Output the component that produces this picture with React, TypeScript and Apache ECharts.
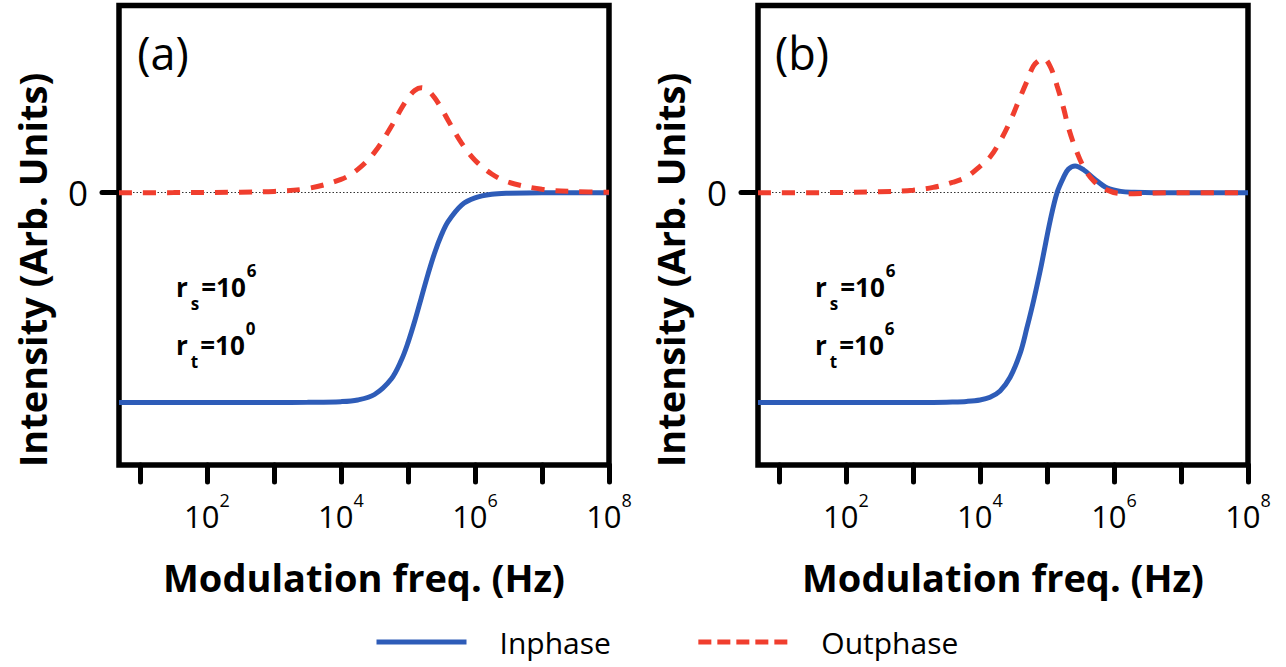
import React, { useEffect, useRef } from "react";
import * as echarts from "echarts";

// ---- data (log10 of modulation frequency in Hz, and intensity in arb. units) ----
const aLogFreq = [0.687, 1.5, 2.5, 3.0, 3.5, 4.0, 4.25, 4.5, 4.75, 4.9, 5.0, 5.1, 5.2, 5.3, 5.4, 5.5, 5.6, 5.8, 6.0, 6.25, 6.5, 7.0, 7.5, 8.0];
const aInphase = [-1, -1, -1, -1, -0.999, -0.996, -0.988, -0.962, -0.888, -0.799, -0.715, -0.613, -0.5, -0.387, -0.285, -0.201, -0.137, -0.059, -0.025, -0.008, -0.003, 0, 0, 0];
const aOutphase = [0, 0.0002, 0.002, 0.006, 0.02, 0.063, 0.111, 0.192, 0.315, 0.401, 0.451, 0.487, 0.5, 0.487, 0.451, 0.401, 0.344, 0.236, 0.155, 0.089, 0.05, 0.016, 0.005, 0.002];

const bLogFreq = [0.687, 1.5, 2.5, 3.0, 3.3, 3.6, 3.8, 4.0, 4.15, 4.3, 4.45, 4.6, 4.7, 4.8, 4.9, 4.95, 5.05, 5.15, 5.25, 5.32, 5.42, 5.55, 5.7, 5.9, 6.1, 6.3, 6.6, 7.0, 8.0];
const bInphase = [-1, -1, -1, -1, -1, -0.998, -0.995, -0.988, -0.975, -0.945, -0.88, -0.765, -0.645, -0.515, -0.37, -0.29, -0.13, 0.0, 0.075, 0.112, 0.127, 0.108, 0.068, 0.022, 0.006, 0.002, 0, 0, 0];
const bOutphase = [0, 0, 0.004, 0.012, 0.025, 0.05, 0.075, 0.125, 0.17, 0.245, 0.34, 0.455, 0.53, 0.605, 0.635, 0.64, 0.6, 0.51, 0.4, 0.31, 0.215, 0.12, 0.055, 0.012, -0.004, -0.005, -0.002, 0, 0];

const xTickExps = [1, 2, 3, 4, 5, 6, 7, 8];
const xLabelExps = [2, 4, 6, 8];
const yTickValues = [0];
const seriesNames = ["Inphase", "Outphase"];
const panelLabels = ["(a)", "(b)"];
const panelParams = [
  [{ sub: "s", exp: "6" }, { sub: "t", exp: "0" }],
  [{ sub: "s", exp: "6" }, { sub: "t", exp: "6" }],
];
const xTitle = "Modulation freq. (Hz)";
const yTitle = "Intensity (Arb. Units)";

const BLUE = "#2e5cb8";
const RED = "#f03e2e";
const FONT = "'Open Sans', 'DejaVu Sans', sans-serif";

const GRID_LEFTS = [119, 758];
const GRID_TOP = 5.5;
const GRID_W = 490;
const GRID_H = 459.5;

function pairs(xs: number[], ys: number[]) {
  return xs.map((x, i) => [x, ys[i]]);
}

export default function App() {
  const ref = useRef<HTMLDivElement>(null);

  useEffect(() => {
    if (!ref.current) return;
    const chart = echarts.init(ref.current, null, { renderer: "svg" });

    const panels = [
      { x: aLogFreq, inp: aInphase, out: aOutphase },
      { x: bLogFreq, inp: bInphase, out: bOutphase },
    ];

    const grid = GRID_LEFTS.map((left) => ({
      left,
      top: GRID_TOP,
      width: GRID_W,
      height: GRID_H,
      show: true,
      borderColor: "#000",
      borderWidth: 5.5,
      backgroundColor: "transparent",
      containLabel: false,
    }));

    const xAxis = GRID_LEFTS.map((_, i) => ({
      type: "value",
      gridIndex: i,
      min: 0.687,
      max: 8,
      axisLine: { show: false, onZero: false },
      splitLine: { show: false },
      axisTick: {
        show: true,
        customValues: xTickExps,
        length: 17,
        lineStyle: { color: "#000", width: 5, cap: "round" },
      },
      axisLabel: {
        show: true,
        customValues: xLabelExps,
        margin: 26,
        formatter: (v: number) => `{b|10}{s|${Math.round(v)}}`,
        rich: {
          b: { fontFamily: FONT, fontSize: 31, color: "#000", lineHeight: 50 },
          s: { fontFamily: FONT, fontSize: 18, color: "#000", lineHeight: 20, verticalAlign: "top" },
        },
      },
    }));

    const yAxis = GRID_LEFTS.map((_, i) => ({
      type: "value",
      gridIndex: i,
      min: -1.298,
      max: 0.892,
      axisLine: { show: false, onZero: false },
      splitLine: { show: false },
      axisTick: {
        show: true,
        customValues: yTickValues,
        length: 17,
        lineStyle: { color: "#000", width: 5, cap: "round" },
      },
      axisLabel: {
        show: true,
        customValues: yTickValues,
        margin: 31,
        formatter: (v: number) => String(Math.round(v)),
        fontFamily: FONT,
        fontSize: 35,
        color: "#000",
      },
    }));

    const series: any[] = [];
    panels.forEach((p, i) => {
      series.push({
        type: "line",
        name: seriesNames[0],
        xAxisIndex: i,
        yAxisIndex: i,
        data: pairs(p.x, p.inp),
        symbol: "none",
        showSymbol: false,
        smooth: 0.35,
        lineStyle: { color: BLUE, width: 5 },
        itemStyle: { color: BLUE },
        z: 2,
        markLine: {
          silent: true,
          symbol: ["none", "none"],
          z: 1,
          label: { show: false },
          lineStyle: { color: "#333", width: 1, type: [1.5, 2] },
          data: [{ yAxis: 0 }],
        },
      });
      series.push({
        type: "line",
        name: seriesNames[1],
        xAxisIndex: i,
        yAxisIndex: i,
        data: pairs(p.x, p.out),
        symbol: "none",
        showSymbol: false,
        smooth: 0.35,
        lineStyle: { color: RED, width: 5, type: [13, 11] },
        itemStyle: { color: RED },
        z: 3,
      });
    });

    const textEl = (
      text: string,
      x: number,
      y: number,
      size: number,
      weight: string,
      align: string,
      rotation = 0
    ) => ({
      type: "text",
      x,
      y,
      rotation,
      silent: true,
      style: {
        text,
        fill: "#000",
        fontFamily: FONT,
        fontSize: size,
        fontWeight: weight,
        align,
        verticalAlign: "middle",
        textAlign: align,
        textVerticalAlign: "middle",
      },
    });

    const paramEl = (sub: string, exp: string, x: number, y: number) => ({
      type: "text",
      x,
      y,
      silent: true,
      style: {
        text: `{m|r}{q|${sub}}{m|=10}{p|${exp}}`,
        align: "left",
        verticalAlign: "middle",
        textAlign: "left",
        textVerticalAlign: "middle",
        rich: {
          m: { fontFamily: FONT, fontSize: 26, fontWeight: "bold", fill: "#000", color: "#000", lineHeight: 50 },
          q: {
            fontFamily: FONT, fontSize: 17, fontWeight: "bold", fill: "#000", color: "#000",
            lineHeight: 10, verticalAlign: "bottom", padding: [0, 2, 0, 3],
          },
          p: {
            fontFamily: FONT, fontSize: 17, fontWeight: "bold", fill: "#000", color: "#000",
            lineHeight: 29, verticalAlign: "top", padding: [0, 0, 0, 1],
          },
        },
      },
    });

    const graphic: any[] = [];
    GRID_LEFTS.forEach((left, i) => {
      const dx = left - GRID_LEFTS[0];
      graphic.push(textEl(yTitle, 32 + dx - (i === 1 ? 1 : 0), 270, 38, "bold", "center", Math.PI / 2));
      graphic.push(textEl(xTitle, left + GRID_W / 2, 577, 38, "bold", "center"));
      graphic.push(textEl(panelLabels[i], 163 + dx, 52, 45, "normal", "center"));
      panelParams[i].forEach((pp, j) => {
        graphic.push(paramEl(pp.sub, pp.exp, 176 + dx, 287 + j * 58));
      });
    });

    chart.setOption({
      animation: false,
      backgroundColor: "#fff",
      grid,
      xAxis,
      yAxis,
      series,
      legend: {
        left: 369,
        top: 619,
        itemWidth: 90,
        itemHeight: 14,
        itemGap: 85,
        selectedMode: false,
        itemStyle: { opacity: 0, borderWidth: 0 },
        lineStyle: { width: 5 },
        data: [
          { name: seriesNames[0] },
          { name: seriesNames[1], lineStyle: { type: [13, 6], width: 5 } },
        ],
        textStyle: {
          fontFamily: FONT,
          fontSize: 30,
          color: "#000",
          lineHeight: 36,
          padding: [0, 0, 0, 28],
        },
      },
      graphic,
    });

    return () => chart.dispose();
  }, []);

  return (
    <div
      ref={ref}
      style={{ position: "absolute", left: 0, top: 0, width: 1286, height: 667 }}
    />
  );
}
